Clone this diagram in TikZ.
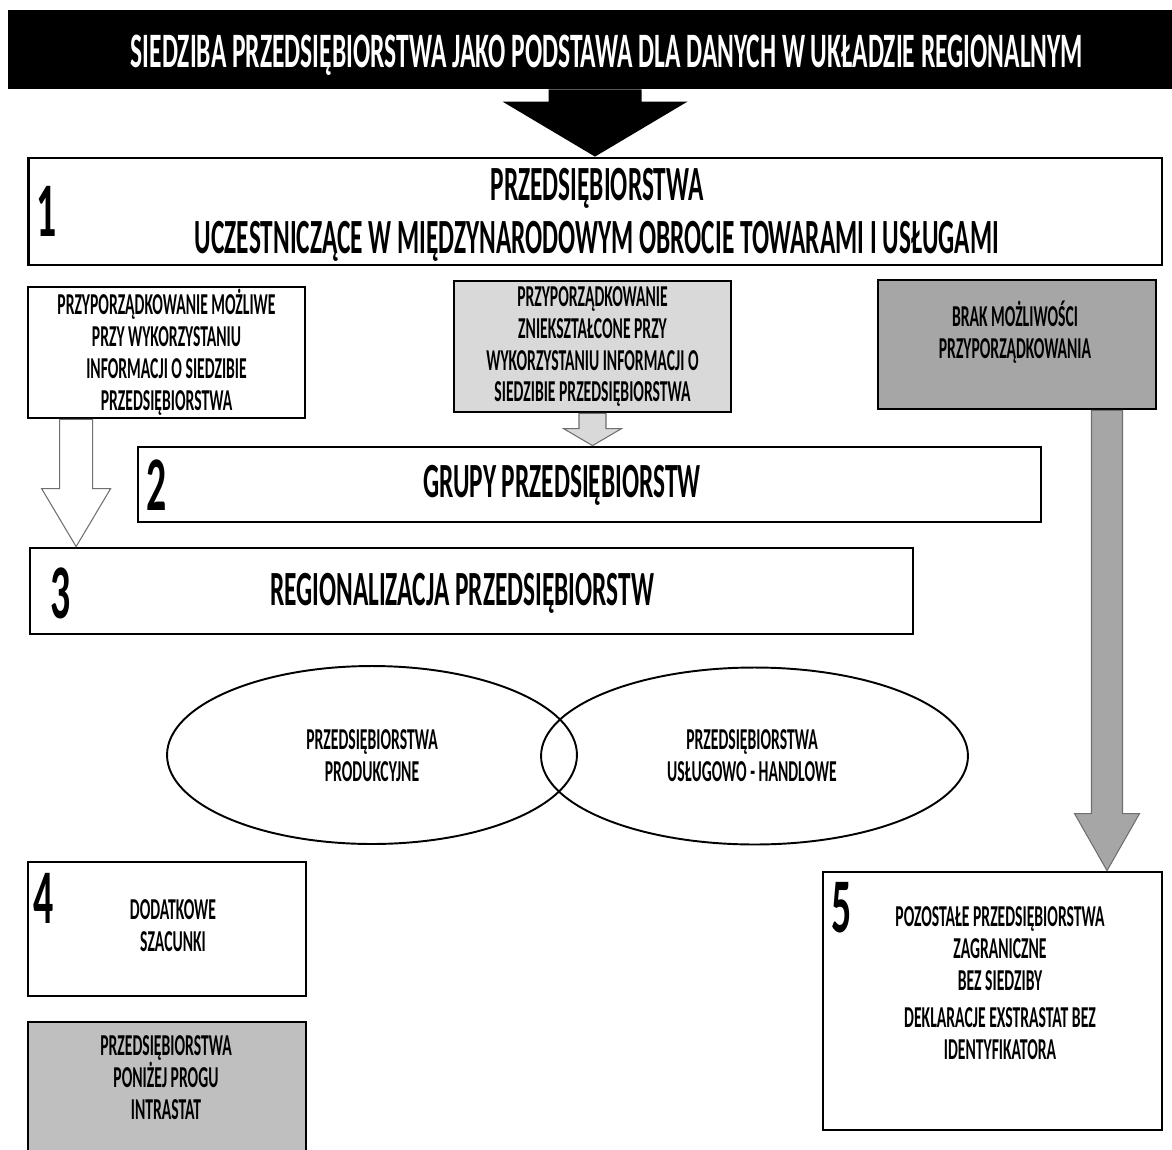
\documentclass[tikz,border=0pt]{standalone}
\usepackage{fontspec}
\usepackage{tikz}
\usetikzlibrary{calc,shapes.geometric}
\newfontfamily\cf[FakeStretch=0.515]{Carlito}
\definecolor{lightfill}{HTML}{D9D9D9}
\definecolor{midfill}{HTML}{BFBFBF}
\definecolor{darkfill}{HTML}{A6A6A6}
\definecolor{edgegray}{HTML}{6F6F6F}
\tikzset{
  frame/.style={draw=black, line width=1.6pt, inner sep=0pt},
  bigtxt/.style={font=\cf\bfseries\fontsize{28}{29}\selectfont, align=center, inner sep=0pt},
  smalltxt/.style={font=\cf\bfseries\fontsize{17.3}{18.2}\selectfont, align=center, inner sep=0pt},
  numtxt/.style={font=\cf\bfseries\fontsize{44}{44}\selectfont, inner sep=0pt},
  oval/.style={ellipse, draw=black, line width=1.1pt, inner sep=0pt},
  arrowK/.style={fill=black},
  arrowW/.style={fill=white, draw=edgegray, line width=0.6pt},
  arrowL/.style={fill=lightfill, draw=edgegray, line width=0.6pt},
  arrowD/.style={fill=darkfill, draw=edgegray, line width=0.6pt}
}

\begin{document}
\begin{tikzpicture}[x=0.02cm, y=-0.02cm]
  \useasboundingbox (0,0) rectangle (1172,1149);

  % header
  \node[fill=black, inner sep=0pt, minimum width=23.28cm, minimum height=1.58cm] (title) at (590,49.5) {};
  \node[bigtxt, font=\cf\bfseries\fontsize{28.2}{29}\selectfont, text=white, text height=18pt, text depth=0pt]
    (titletxt) at (607,52) {SIEDZIBA PRZEDSIĘBIORSTWA JAKO PODSTAWA DLA DANYCH W UKŁADZIE REGIONALNYM};

  \node[frame, minimum width=22.68cm, minimum height=2.14cm] (box1) at (595,211.5) {};
  \node[bigtxt] (box1txt) at (597,215)
    {PRZEDSIĘBIORSTWA\\[1.5pt]UCZESTNICZĄCE W MIĘDZYNARODOWYM OBROCIE TOWARAMI I USŁUGAMI};
  \node[numtxt] (num1) at (47,211) {1};

  % assignment boxes
  \node[frame, smalltxt, minimum width=5.54cm, minimum height=2.62cm] (match) at (166.5,352.5)
    {PRZYPORZĄDKOWANIE MOŻLIWE\\PRZY WYKORZYSTANIU\\INFORMACJI O SIEDZIBIE\\PRZEDSIĘBIORSTWA};
  \node[frame, smalltxt, fill=lightfill, minimum width=5.54cm, minimum height=2.62cm] (distort) at (592.5,346.5)
    {PRZYPORZĄDKOWANIE\\ZNIEKSZTAŁCONE PRZY\\WYKORZYSTANIU INFORMACJI O\\SIEDZIBIE PRZEDSIĘBIORSTWA};
  \node[frame, fill=darkfill, minimum width=5.56cm, minimum height=2.58cm] (nomatch) at (1017,344.5) {};
  \node[smalltxt] (nomatchtxt) at (1015,332) {BRAK MOŻLIWOŚCI\\PRZYPORZĄDKOWANIA};

  \node[frame, minimum width=18.06cm, minimum height=1.5cm] (groups) at (589.5,484.5) {};
  \node[bigtxt] (groupstxt) at (562,485) {GRUPY PRZEDSIĘBIORSTW};
  \node[numtxt] (num2) at (157,485) {2};

  \node[frame, minimum width=17.66cm, minimum height=1.72cm] (region) at (471.5,591) {};
  \node[bigtxt] (regiontxt) at (462,593) {REGIONALIZACJA PRZEDSIĘBIORSTW};
  \node[numtxt] (num3) at (61,593) {3};

  % types
  \node[oval, minimum width=8.2cm, minimum height=3.56cm] (prod) at (372,755) {};
  \node[oval, minimum width=8.54cm, minimum height=3.54cm] (serv) at (754.5,756) {};
  \node[smalltxt] (prodtxt) at (372,756) {PRZEDSIĘBIORSTWA\\PRODUKCYJNE};
  \node[smalltxt] (servtxt) at (752,756) {PRZEDSIĘBIORSTWA\\USŁUGOWO - HANDLOWE};

  % bottom boxes
  \node[frame, minimum width=5.56cm, minimum height=2.68cm] (extra) at (167,929) {};
  \node[smalltxt] (extratxt) at (173,926) {DODATKOWE\\SZACUNKI};
  \node[numtxt] (num4) at (44,898) {4};

  \node[frame, fill=midfill, minimum width=5.56cm, minimum height=2.76cm] (below) at (167,1091) {};
  \node[smalltxt] (belowtxt) at (166,1078) {PRZEDSIĘBIORSTWA\\PONIŻEJ PROGU\\INTRASTAT};

  \node[frame, minimum width=6.78cm, minimum height=5.16cm] (rest) at (992.5,1001) {};
  \node[smalltxt] (resttxt) at (1000,983)
    {POZOSTAŁE PRZEDSIĘBIORSTWA\\ZAGRANICZNE\\BEZ SIEDZIBY\\[3pt]DEKLARACJE EXSTRASTAT BEZ\\IDENTYFIKATORA};
  \node[numtxt] (num5) at (842,908) {5};

  % block arrows
  \coordinate (ka) at (title.south -| box1.north);
  \fill[arrowK] ($(ka)+(-46.5,0)$) -- ($(ka)+(46.5,0)$) -- ($(box1.north)+(46.5,-55)$)
    -- ($(box1.north)+(92.5,-55)$) -- (box1.north) -- ($(box1.north)+(-92.5,-55)$)
    -- ($(box1.north)+(-46.5,-55)$) -- cycle;

  \coordinate (wa) at ($(match.south west)+(49.5,0)$);
  \coordinate (wb) at (wa |- region.north);
  \filldraw[arrowW] ($(wa)+(-16.5,0)$) -- ($(wa)+(16.5,0)$) -- ($(wb)+(16.5,-58)$)
    -- ($(wb)+(34.5,-58)$) -- (wb) -- ($(wb)+(-34.5,-58)$) -- ($(wb)+(-16.5,-58)$) -- cycle;

  \coordinate (la) at (distort.south);
  \coordinate (lb) at (la |- groups.north);
  \filldraw[arrowL] ($(la)+(-13.5,0)$) -- ($(la)+(13.5,0)$) -- ($(lb)+(13.5,-17)$)
    -- ($(lb)+(29,-17)$) -- (lb) -- ($(lb)+(-29,-17)$) -- ($(lb)+(-13.5,-17)$) -- cycle;

  \coordinate (da) at ($(nomatch.south)+(90,0)$);
  \coordinate (db) at (da |- rest.north);
  \filldraw[arrowD] ($(da)+(-15.5,0)$) -- ($(da)+(15.5,0)$) -- ($(db)+(15.5,-57)$)
    -- ($(db)+(32.5,-57)$) -- (db) -- ($(db)+(-32.5,-57)$) -- ($(db)+(-15.5,-57)$) -- cycle;
\end{tikzpicture}
\end{document}
